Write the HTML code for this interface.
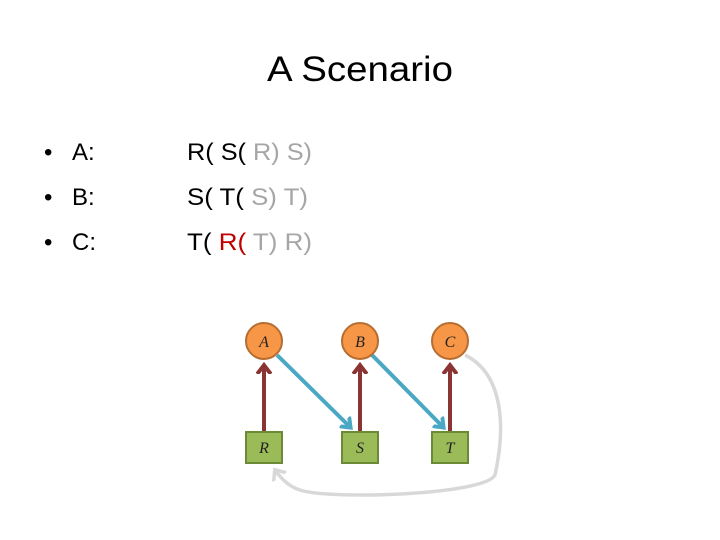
<!DOCTYPE html>
<html><head><style>body{margin:0;background:#fff}svg{display:block}</style></head>
<body>
<svg width="720" height="540" xmlns="http://www.w3.org/2000/svg" font-family="Liberation Sans, sans-serif">
<defs>
<marker id="mr" markerWidth="4" markerHeight="4" refX="2" refY="2" orient="auto" markerUnits="strokeWidth"><path d="M0,0.3 L2.2,2 L0,3.7" fill="none" stroke="#8b3434" stroke-width="1"/></marker>
<marker id="mb" markerWidth="4" markerHeight="4" refX="2" refY="2" orient="auto" markerUnits="strokeWidth"><path d="M0,0.3 L2.2,2 L0,3.7" fill="none" stroke="#4aa8c4" stroke-width="1"/></marker>
<marker id="mg" markerWidth="5" markerHeight="5" refX="2.5" refY="2.5" orient="auto" markerUnits="strokeWidth"><path d="M0,0.3 L2.6,2.5 L0,4.7" fill="none" stroke="#d8d8d8" stroke-width="1"/></marker>
</defs>
<text x="360" y="81" font-size="35" text-anchor="middle" textLength="186" lengthAdjust="spacingAndGlyphs">A Scenario</text>
<g font-size="24">
<text x="44" y="160">•</text><text x="72" y="160">A:</text>
<text x="44" y="205">•</text><text x="72" y="205">B:</text>
<text x="44" y="250">•</text><text x="72" y="250">C:</text>
<text x="187" y="160" textLength="125" lengthAdjust="spacingAndGlyphs">R( S( <tspan fill="#a6a6a6">R) S)</tspan></text>
<text x="187" y="205" textLength="121" lengthAdjust="spacingAndGlyphs">S( T( <tspan fill="#a6a6a6">S) T)</tspan></text>
<text x="187" y="250" textLength="125" lengthAdjust="spacingAndGlyphs">T( <tspan fill="#c00000">R(</tspan> <tspan fill="#a6a6a6">T) R)</tspan></text>
</g>
<g stroke-width="4" fill="none">
<line x1="264" y1="432" x2="264" y2="366" stroke="#8b3434" marker-end="url(#mr)"/>
<line x1="360" y1="432" x2="360" y2="366" stroke="#8b3434" marker-end="url(#mr)"/>
<line x1="450" y1="432" x2="450" y2="366" stroke="#8b3434" marker-end="url(#mr)"/>
<line x1="277" y1="355" x2="350" y2="427" stroke="#4aa8c4" marker-end="url(#mb)"/>
<line x1="372" y1="355" x2="443" y2="427" stroke="#4aa8c4" marker-end="url(#mb)"/>
<path d="M465,355 C505,375 505,430 495,475 C485,495 330,500 300,490 C290,487 282,480 275,470" stroke="#d8d8d8" stroke-width="3.5" marker-end="url(#mg)"/>
</g>
<g fill="#f79646" stroke="#b66d31" stroke-width="2">
<circle cx="264" cy="341" r="18"/><circle cx="360" cy="341" r="18"/><circle cx="450" cy="341" r="18"/>
</g>
<g fill="#9bbb59" stroke="#6b8a35" stroke-width="2">
<rect x="246" y="432" width="36" height="31"/><rect x="342" y="432" width="36" height="31"/><rect x="432" y="432" width="36" height="31"/>
</g>
<g font-family="Liberation Serif, serif" font-style="italic" font-size="16" text-anchor="middle" fill="#222">
<text x="264" y="347">A</text><text x="360" y="347">B</text><text x="450" y="347">C</text>
<text x="264" y="453">R</text><text x="360" y="453">S</text><text x="450" y="453">T</text>
</g>
</svg>
</body></html>
